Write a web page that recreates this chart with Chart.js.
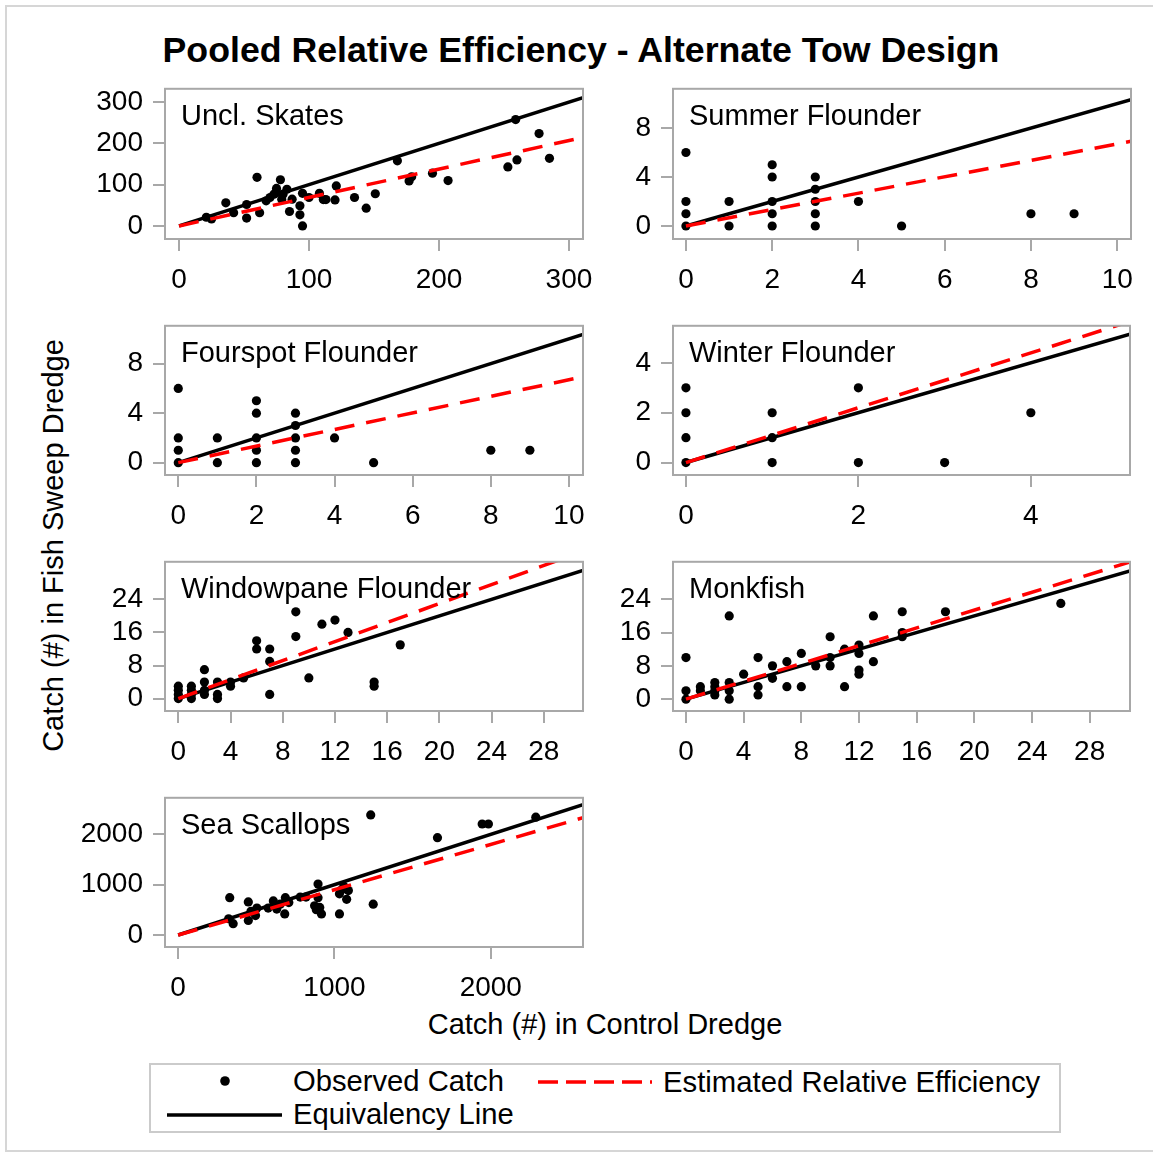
<!DOCTYPE html>
<html>
<head>
<meta charset="utf-8">
<script src="https://cdn.jsdelivr.net/npm/chart.js@4.4.0/dist/chart.umd.min.js"></script>
<style>
html,body{margin:0;padding:0;background:#fff;width:1153px;height:1154px;overflow:hidden;}
body{position:relative;font-family:"Liberation Sans",Arial,Helvetica,sans-serif;color:#000;}
.t{position:absolute;white-space:nowrap;}
canvas{position:absolute;}
#outer{position:absolute;left:5px;top:5px;width:1170px;height:1147px;border:2px solid #d6d6d6;box-sizing:border-box;}
#legend{position:absolute;left:149px;top:1063px;width:912px;height:70px;border:2px solid #cbcbcb;box-sizing:border-box;}
</style>
</head>
<body>
<div id="outer"></div>
<div class="t" id="title" style="left:81px;width:1000px;text-align:center;top:33px;font-size:35.7px;line-height:35px;font-weight:bold;">Pooled Relative Efficiency - Alternate Tow Design</div>
<div class="t" id="ylab" style="left:-247px;width:600px;top:531px;height:29px;font-size:29px;line-height:29px;text-align:center;transform:rotate(-90deg);">Catch (#) in Fish Sweep Dredge</div>
<div class="t" id="xlab" style="left:305px;width:600px;top:1010px;font-size:29px;line-height:29px;text-align:center;">Catch (#) in Control Dredge</div>
<div id="legend"></div>
<svg class="t" style="left:0;top:0;width:1153px;height:1154px;pointer-events:none;" width="1153" height="1154">
  <circle cx="225" cy="1081" r="4.8" fill="#000"/>
  <line x1="538" y1="1082" x2="652" y2="1082" stroke="#ff0000" stroke-width="3.5" stroke-dasharray="20 8"/>
  <line x1="167" y1="1115" x2="282" y2="1115" stroke="#000" stroke-width="3.5"/>
</svg>
<div class="t" style="left:293px;top:1067px;font-size:29.2px;line-height:29px;">Observed Catch</div>
<div class="t" style="left:663px;top:1067px;font-size:29.3px;line-height:29px;">Estimated Relative Efficiency</div>
<div class="t" style="left:293px;top:1100px;font-size:29.2px;line-height:29px;">Equivalency Line</div>

<script>
// ---------------- data ----------------
const panelNames = ["Uncl. Skates","Summer Flounder","Fourspot Flounder","Winter Flounder","Windowpane Flounder","Monkfish","Sea Scallops"];

const skatesControl = [21,25,36,42,52,52,60,62,67,70,73,75,78,75,80,83,79,85,87,93,93,95,95,100,108,111,113,120,121,135,144,151,168,177,179,195,207,253,260,259,277,285];
const skatesFish    = [21,17,56,32,19,52,118,32,61,69,77,91,112,81,77,89,65,35,65,49,27,0,79,69,79,64,64,63,97,69,43,78,158,109,119,128,110,143,160,258,224,164];

const summerControl = [0,0,0,0,1,1,2,2,2,2,2,3,3,3,3,3,4,5,8,9];
const summerFish    = [0,1,2,6,0,2,0,1,2,4,5,0,1,2,3,4,2,0,1,1];

const fourspotControl = [0,0,0,0,1,1,2,2,2,2,2,3,3,3,3,3,4,5,8,9];
const fourspotFish    = [0,1,2,6,0,2,0,1,2,4,5,0,1,2,3,4,2,0,1,1];

const winterControl = [0,0,0,0,1,1,1,2,2,3,4];
const winterFish    = [0,1,2,3,0,1,2,0,3,0,2];

const windowpaneControl = [0,0,0,0,1,1,1,1,2,2,2,2,3,3,3,4,4,5,6,6,7,7,7,9,9,10,11,12,13,15,15,17];
const windowpaneFish    = [0,1,2,3,0,1,2,3,1,2,4,7,0,1,4,3,4,5,14,12,12,9,1,21,15,5,18,19,16,4,3,13];

const monkfishControl = [0,0,0,1,1,2,2,2,2,3,3,3,3,4,5,5,5,6,6,7,7,8,8,9,10,10,10,11,11,12,12,12,12,13,13,15,15,15,18,26];
const monkfishFish    = [10,2,0,3,2,4,3,2,1,20,4,2,0,6,10,3,1,8,5,9,3,11,3,8,15,10,8,12,3,13,11,7,6,20,9,21,16,15,21,23];

const scallopsControl = [323,330,352,449,449,466,504,495,576,609,620,631,653,686,682,708,781,818,873,884,895,895,906,917,1032,1032,1049,1060,1078,1089,1248,1232,1659,1945,1985,2288];
const scallopsFish    = [323,742,226,658,290,471,535,387,535,677,581,516,613,742,419,645,755,755,581,503,1013,742,548,419,419,819,903,968,710,884,613,2387,1935,2206,2206,2342];

// estimated relative efficiency (slope of red dashed line); equivalency slope = 1
const estimatedSlope = [0.69, 0.67, 0.67, 1.10, 1.15, 1.07, 0.90];
const equivalencySlope = 1;

// tick labels
const xTickValues = [[0,100,200,300],[0,2,4,6,8,10],[0,2,4,6,8,10],[0,2,4],[0,4,8,12,16,20,24,28],[0,4,8,12,16,20,24,28],[0,1000,2000]];
const yTickValues = [[0,100,200,300],[0,4,8],[0,4,8],[0,2,4],[0,8,16,24],[0,8,16,24],[0,1000,2000]];

// axis ranges
const xMin = [-10.8,-0.3,-0.34,-0.15,-1.02,-0.9,-84];
const xMax = [310.8,10.32,10.36,5.15,31.0,30.8,2590];
const yMin = [-31.7,-1.06,-1.0,-0.5,-3.0,-2.84,-238];
const yMax = [332.6,11.2,11.06,5.49,33.1,33.0,2727];

const controlSeries = [skatesControl,summerControl,fourspotControl,winterControl,windowpaneControl,monkfishControl,scallopsControl];
const fishSeries    = [skatesFish,summerFish,fourspotFish,winterFish,windowpaneFish,monkfishFish,scallopsFish];

// ---------------- layout ----------------
const frames = [ // left, top, right, bottom of plot frame (px)
  [165, 86, 583, 239],
  [673, 86, 1131, 239],
  [165, 323, 583, 475],
  [673, 323, 1130, 475],
  [165, 559, 583, 711],
  [673, 559, 1130, 711],
  [165, 795, 583, 947]
];
const YW = 130, PT = 24, PR = 40, XH = 80;
const GRAY = '#a8a8a8';
const FONT = '"Liberation Sans", Arial, Helvetica, sans-serif';

const framePlugin = {
  id: 'frameBox',
  afterDatasetsDraw(chart) {
    const a = chart.chartArea, ctx = chart.ctx;
    ctx.save();
    ctx.strokeStyle = GRAY;
    ctx.lineWidth = 2;
    ctx.strokeRect(a.left, a.top, a.right - a.left, a.bottom - a.top);
    ctx.restore();
  }
};

frames.forEach((f, i) => {
  const [l, t, r, b] = f;
  const w = r - l, h = b - t;
  const cv = document.createElement('canvas');
  const cw = w + YW + PR, ch = h + PT + XH;
  cv.width = cw; cv.height = ch;
  cv.style.left = (l - YW) + 'px';
  cv.style.top = (t - PT) + 'px';
  cv.style.width = cw + 'px';
  cv.style.height = ch + 'px';
  document.body.appendChild(cv);

  const pts = controlSeries[i].map((x, k) => ({x: x, y: fishSeries[i][k]}));
  const xEnd = xMax[i];
  const equiv = [{x: 0, y: 0}, {x: xEnd, y: equivalencySlope * xEnd}];
  const est = [{x: 0, y: 0}, {x: xEnd, y: estimatedSlope[i] * xEnd}];

  const tickCfg = () => ({
    font: {family: FONT, size: 28},
    color: '#000',
    maxRotation: 0,
    autoSkip: false,
    callback: (v) => String(v)
  });

  new Chart(cv, {
    type: 'scatter',
    data: {
      datasets: [
        {label: 'Observed Catch', data: pts, type: 'scatter', pointRadius: 4.6, pointHoverRadius: 4.6,
         backgroundColor: '#000', borderWidth: 0, order: 3, clip: false},
        {label: 'Equivalency Line', data: equiv, type: 'line', borderColor: '#000', borderWidth: 3.5,
         pointRadius: 0, fill: false, order: 2, clip: 0, tension: 0},
        {label: 'Estimated Relative Efficiency', data: est, type: 'line', borderColor: '#ff0000', borderWidth: 3.5,
         borderDash: [20, 12], pointRadius: 0, fill: false, order: 1, clip: 0, tension: 0}
      ]
    },
    options: {
      responsive: false,
      animation: false,
      devicePixelRatio: 1,
      layout: {padding: {top: PT, right: PR, left: 0, bottom: 0}},
      plugins: {legend: {display: false}, tooltip: {enabled: false}, title: {display: false}},
      scales: {
        x: {
          type: 'linear', position: 'bottom', min: xMin[i], max: xMax[i],
          grid: {display: true, drawOnChartArea: false, drawTicks: true, tickLength: 12, color: GRAY, lineWidth: 2},
          border: {display: false},
          ticks: Object.assign(tickCfg(), {padding: 12}),
          afterBuildTicks: (s) => { s.ticks = xTickValues[i].map(v => ({value: v})); },
          afterFit: (s) => { s.height = XH; }
        },
        y: {
          type: 'linear', position: 'left', min: yMin[i], max: yMax[i],
          grid: {display: true, drawOnChartArea: false, drawTicks: true, tickLength: 12, color: GRAY, lineWidth: 2},
          border: {display: false},
          ticks: Object.assign(tickCfg(), {padding: 10}),
          afterBuildTicks: (s) => { s.ticks = yTickValues[i].map(v => ({value: v})); },
          afterFit: (s) => { s.width = YW; }
        }
      }
    },
    plugins: [framePlugin]
  });

  const lab = document.createElement('div');
  lab.className = 't';
  lab.textContent = panelNames[i];
  lab.style.left = (l + 16) + 'px';
  lab.style.top = (t + 15) + 'px';
  lab.style.fontSize = '29px';
  lab.style.lineHeight = '29px';
  document.body.appendChild(lab);
});
</script>
</body>
</html>
